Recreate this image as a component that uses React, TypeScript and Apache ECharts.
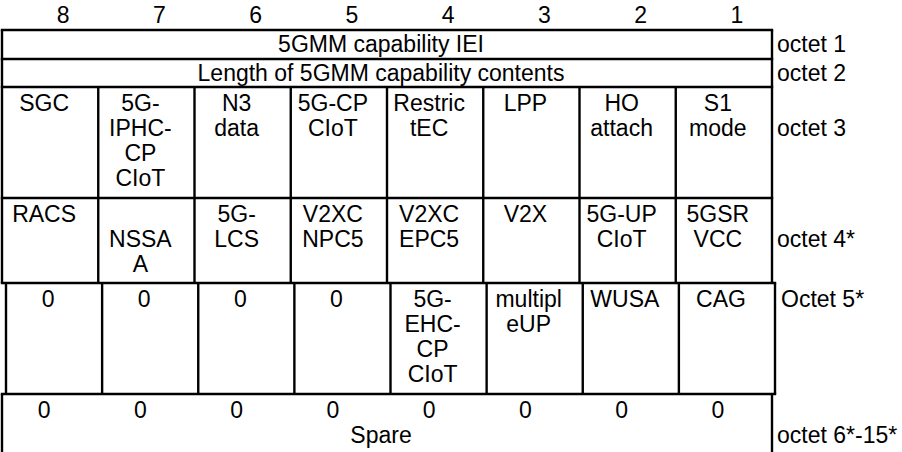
import React, { useEffect, useRef } from "react";
import * as echarts from "echarts";

// ---- content ----
const bitNumbers = ["8", "7", "6", "5", "4", "3", "2", "1"];
const octetLabels = ["octet 1", "octet 2", "octet 3", "octet 4*", "Octet 5*", "octet 6*-15*"];
const octet1Text = "5GMM capability IEI";
const octet2Text = "Length of 5GMM capability contents";
const octet3Cells = ["SGC", "5G-\nIPHC-\nCP\nCIoT", "N3\ndata", "5G-CP\nCIoT", "Restric\ntEC", "LPP", "HO\nattach", "S1\nmode"];
const octet4Cells = ["RACS", "\nNSSA\nA", "5G-\nLCS", "V2XC\nNPC5", "V2XC\nEPC5", "V2X", "5G-UP\nCIoT", "5GSR\nVCC"];
const octet5Cells = ["0", "0", "0", "0", "5G-\nEHC-\nCP\nCIoT", "multipl\neUP", "WUSA", "CAG"];
const octet6Cells = ["0", "0", "0", "0", "0", "0", "0", "0"];
const octet6Spare = "Spare";

// ---- layout / style ----
const FONT = '"Liberation Sans", Arial, sans-serif';
const FS = 23;
const LH = 25;
const LW = 2.4;
const L = 2;
const R = 772;
const ROW_TOPS = [30, 59, 87, 198, 283, 394, 452];
const R5_L = 6;
const R5_R = 775;
const TEXT_DX = -6;
const FIRST = 15.5;

function hline(y: number, x1: number, x2: number) {
  return { type: "line", shape: { x1, y1: y, x2, y2: y }, style: { stroke: "#000", lineWidth: LW }, silent: true };
}
function vline(x: number, y1: number, y2: number) {
  return { type: "line", shape: { x1: x, y1, x2: x, y2 }, style: { stroke: "#000", lineWidth: LW }, silent: true };
}
function txt(s: string, x: number, y: number, align: string = "center") {
  return {
    type: "text",
    x,
    y,
    silent: true,
    style: { text: s, fontSize: FS, fontFamily: FONT, fill: "#000", align, verticalAlign: "middle" },
  };
}

function buildElements() {
  const els: any[] = [];
  const cw = (R - L) / 8;
  const cw5 = (R5_R - R5_L) / 8;
  // horizontals
  [30, 59, 87, 198].forEach((y) => els.push(hline(y, L - LW / 2, R + LW / 2)));
  els.push(hline(283, L - LW / 2, R5_R + LW / 2));
  els.push(hline(394, L - LW / 2, R5_R + LW / 2));
  // verticals rows 1-2
  els.push(vline(L, 30, 87));
  els.push(vline(R, 30, 87));
  // rows 3-4
  for (let i = 0; i <= 8; i++) els.push(vline(L + i * cw, 87, 283));
  // row 5
  for (let i = 0; i <= 8; i++) els.push(vline(R5_L + i * cw5, 283, 394));
  // row 6
  els.push(vline(L, 394, 460));
  els.push(vline(R, 394, 460));

  // header bit numbers
  bitNumbers.forEach((b, i) => els.push(txt(b, L + (i + 0.5) * cw + 13, 15)));
  const mid = (L + R) / 2 + TEXT_DX;
  els.push(txt(octet1Text, mid, 44));
  els.push(txt(octet2Text, mid, 73));

  const putCells = (cells: string[], top: number, left: number, w: number) => {
    cells.forEach((c, i) => {
      c.split("\n").forEach((line, j) => {
        if (line) els.push(txt(line, left + (i + 0.5) * w + TEXT_DX, top + FIRST + j * LH));
      });
    });
  };
  putCells(octet3Cells, ROW_TOPS[2], L, cw);
  putCells(octet4Cells, ROW_TOPS[3], L, cw);
  putCells(octet5Cells, ROW_TOPS[4], R5_L, cw5);
  putCells(octet6Cells, ROW_TOPS[5], L, cw);
  els.push(txt(octet6Spare, mid, ROW_TOPS[5] + FIRST + LH));

  // octet labels
  const labelY = [44, 73, ROW_TOPS[2] + FIRST + LH, ROW_TOPS[3] + FIRST + LH, ROW_TOPS[4] + FIRST, ROW_TOPS[5] + FIRST + LH];
  const labelX = [777, 777, 777, 777, 781, 777];
  octetLabels.forEach((s, i) => els.push(txt(s, labelX[i], labelY[i], "left")));
  return els;
}

export default function App() {
  const ref = useRef<HTMLDivElement>(null);
  useEffect(() => {
    document.body.style.margin = "0";
    const chart = echarts.init(ref.current!, null, { renderer: "svg" });
    chart.setOption({
      animation: false,
      backgroundColor: "#ffffff",
      graphic: { elements: buildElements() },
    });
    return () => chart.dispose();
  }, []);
  return <div ref={ref} style={{ width: 902, height: 452 }} />;
}
